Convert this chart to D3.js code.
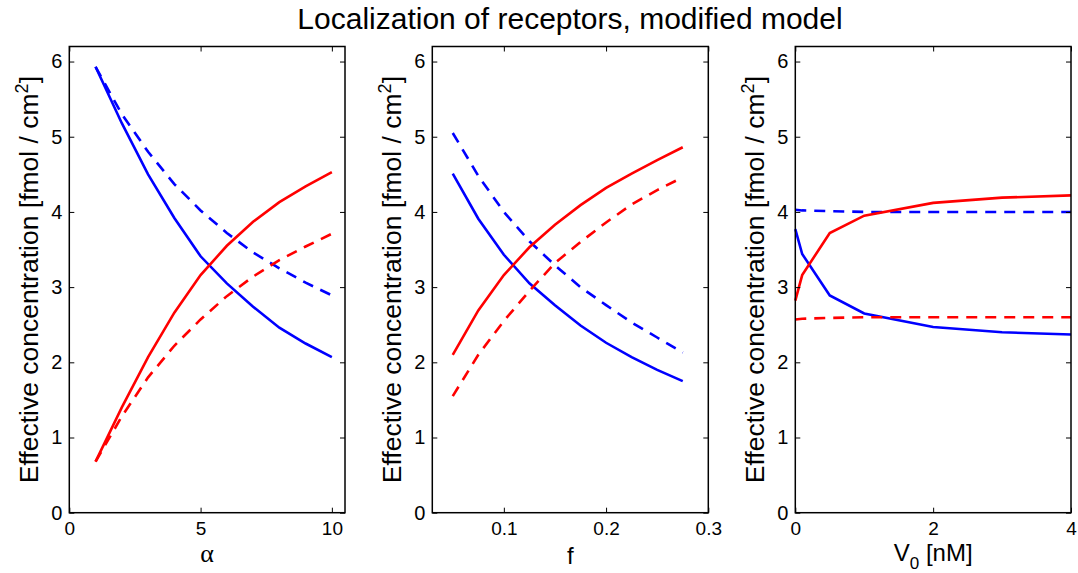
<!DOCTYPE html>
<html><head><meta charset="utf-8">
<script src="https://cdn.jsdelivr.net/npm/d3@7"></script>
<style>body{margin:0;background:#fff}svg{display:block}text{font-family:"Liberation Sans",Arial,Helvetica,sans-serif}</style>
</head><body>
<script>
// ---------- data ----------
const titleText = "Localization of receptors, modified model";
const yTicks = [0,1,2,3,4,5,6];

const alphaVals      = [1,2,3,4,5,6,7,8,9,10];
const alphaBlueSolid = [5.93,5.18,4.50,3.92,3.41,3.05,2.74,2.46,2.25,2.07];
const alphaBlueDash  = [5.93,5.30,4.80,4.37,4.02,3.72,3.46,3.25,3.06,2.89];
const alphaRedSolid  = [0.68,1.40,2.07,2.66,3.16,3.55,3.87,4.13,4.34,4.53];
const alphaRedDash   = [0.68,1.28,1.80,2.22,2.57,2.88,3.14,3.36,3.54,3.71];
const alphaTicks     = [0,5,10];

const fVals      = [0.05,0.075,0.1,0.125,0.15,0.175,0.2,0.225,0.25,0.275];
const fBlueSolid = [4.51,3.91,3.43,3.05,2.76,2.49,2.26,2.07,1.90,1.75];
const fBlueDash  = [5.05,4.48,4.00,3.61,3.29,3.00,2.76,2.53,2.33,2.13];
const fRedSolid  = [2.10,2.69,3.16,3.53,3.83,4.09,4.32,4.51,4.69,4.86];
const fRedDash   = [1.55,2.10,2.55,2.95,3.32,3.60,3.86,4.10,4.29,4.46];
const fTicks     = [0.1,0.2,0.3];

const vVals      = [0,0.1,0.5,1,2,3,4];
const vBlueSolid = [3.77,3.44,2.89,2.65,2.47,2.40,2.37];
const vBlueDash  = [4.03,4.02,4.01,4.00,4.00,4.00,4.00];
const vRedSolid  = [2.82,3.16,3.72,3.95,4.12,4.19,4.22];
const vRedDash   = [2.57,2.58,2.59,2.60,2.60,2.60,2.60];
const vTicks     = [0,2,4];

// ---------- layout ----------
const W = 1078, H = 573;
const yTop = 46.5, yBot = 512.7;
const svg = d3.select("body").append("svg").attr("width", W).attr("height", H);

const panels = [
  {left:69.3, right:345, xDomain:[0,10.5], xTicks:alphaTicks, xs:alphaVals,
   series:[[alphaBlueSolid,"#0000ff",false],[alphaBlueDash,"#0000ff",true],[alphaRedSolid,"#ff0000",false],[alphaRedDash,"#ff0000",true]],
   xlabel:"alpha"},
  {left:432.3, right:708.3, xDomain:[0.03,0.3], xTicks:fTicks, xs:fVals,
   series:[[fBlueSolid,"#0000ff",false],[fBlueDash,"#0000ff",true],[fRedSolid,"#ff0000",false],[fRedDash,"#ff0000",true]],
   xlabel:"f"},
  {left:795.3, right:1071, xDomain:[0,4], xTicks:vTicks, xs:vVals,
   series:[[vBlueSolid,"#0000ff",false],[vBlueDash,"#0000ff",true],[vRedSolid,"#ff0000",false],[vRedDash,"#ff0000",true]],
   xlabel:"V0"}
];

const y = d3.scaleLinear().domain([0,6.2]).range([yBot, yTop]);

panels.forEach(p => {
  const x = d3.scaleLinear().domain(p.xDomain).range([p.left, p.right]);
  const g = svg.append("g");

  // lines
  const line = d3.line().x((d,i)=>x(p.xs[i])).y(d=>y(d));
  p.series.forEach(([vals,col,dash]) => {
    g.append("path").attr("d", line(vals)).attr("fill","none")
      .attr("stroke", col).attr("stroke-width", 2.6)
      .attr("stroke-dasharray", dash ? "11,8" : null);
  });

  // axes
  const fmt = d3.format("~g");
  const ax = g.append("g").attr("transform",`translate(0,${yBot})`)
    .call(d3.axisBottom(x).tickValues(p.xTicks).tickFormat(fmt).tickSizeInner(-5).tickSizeOuter(0).tickPadding(9));
  const axT = g.append("g").attr("transform",`translate(0,${yTop})`)
    .call(d3.axisTop(x).tickValues(p.xTicks).tickFormat("").tickSizeInner(-5).tickSizeOuter(0));
  const ay = g.append("g").attr("transform",`translate(${p.left},0)`)
    .call(d3.axisLeft(y).tickValues(yTicks).tickFormat(d3.format("d")).tickSizeInner(-5).tickSizeOuter(0).tickPadding(7));
  const ayR = g.append("g").attr("transform",`translate(${p.right},0)`)
    .call(d3.axisRight(y).tickValues(yTicks).tickFormat("").tickSizeInner(-5).tickSizeOuter(0));
  [ax,axT,ay,ayR].forEach(a => {
    a.select(".domain").remove();
    a.selectAll(".tick line").attr("stroke","#000").attr("stroke-width",1);
    a.selectAll(".tick text").attr("font-size",20).attr("fill","#000")
      .style("font-family",'"Liberation Sans",Arial,sans-serif');
  });
  ax.selectAll(".tick text").attr("font-size",19);

  // box
  g.append("rect").attr("x",p.left).attr("y",yTop).attr("width",p.right-p.left).attr("height",yBot-yTop)
    .attr("fill","none").attr("stroke","#000").attr("stroke-width",1.5);

  // y label
  const yl = g.append("text")
    .attr("transform",`translate(${p.left-31},${(yTop+yBot)/2}) rotate(-90)`)
    .attr("text-anchor","middle").attr("font-size",26.5).attr("fill","#000");
  yl.append("tspan").text("Effective concentration [fmol / cm");
  yl.append("tspan").attr("dy",-10).attr("font-size",18).text("2");
  yl.append("tspan").attr("dy",10).text("]");

  // x label
  const cx = (p.left+p.right)/2;
  if (p.xlabel === "alpha") {
    g.append("text").attr("x",cx).attr("y",562).attr("text-anchor","middle")
      .attr("font-size",26).style("font-family",'"Liberation Serif","DejaVu Serif",serif').text("α");
  } else if (p.xlabel === "f") {
    g.append("text").attr("x",cx).attr("y",564).attr("text-anchor","middle").attr("font-size",24).text("f");
  } else {
    const t = g.append("text").attr("x",cx).attr("y",561).attr("text-anchor","middle").attr("font-size",24);
    t.append("tspan").text("V");
    t.append("tspan").attr("dy",8).attr("font-size",17).text("0");
    t.append("tspan").attr("dy",-8).text(" [nM]");
  }
});

// title
svg.append("text").attr("x",570).attr("y",29).attr("text-anchor","middle")
  .attr("font-size",30).attr("fill","#000").text(titleText);
</script>
</body></html>
